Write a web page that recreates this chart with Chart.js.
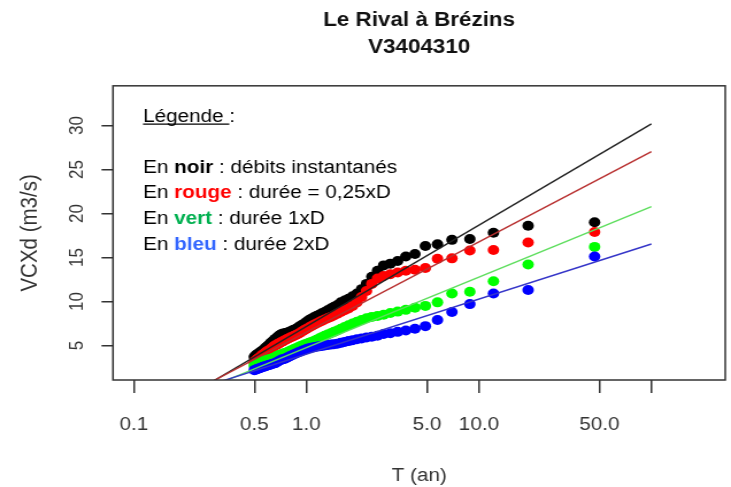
<!DOCTYPE html>
<html>
<head>
<meta charset="utf-8">
<script src="https://cdn.jsdelivr.net/npm/chart.js@4/dist/chart.umd.min.js"></script>
<style>
  html, body { margin: 0; padding: 0; background: #fff; overflow: hidden; }
  /* the reference picture is stretched sideways, so the canvas is too */
  #wrap { position: absolute; left: 0; top: 0; width: 636px; height: 487px;
          transform: scaleX(1.1494); transform-origin: 0 0; }
</style>
</head>
<body>
<div id="wrap"><canvas id="chart"></canvas></div>
<script>
// ── Data ─────────────────────────────────────────────────────────────────────
// return period T (years) of each ranked value, largest first
const returnPeriods = [
  46.86, 19.29, 12.15, 8.865, 6.979, 5.754, 4.896, 4.260, 3.770, 3.381,
  3.065, 2.803, 2.583, 2.394, 2.231, 2.089, 1.964, 1.853, 1.754, 1.665,
  1.585, 1.512, 1.445, 1.384, 1.328, 1.276, 1.228, 1.184, 1.143, 1.104,
  1.068, 1.035, 1.003, 0.973, 0.945, 0.919, 0.894, 0.870, 0.848, 0.826,
  0.806, 0.787, 0.768, 0.751, 0.734, 0.718, 0.702, 0.688, 0.674, 0.660,
  0.647, 0.634, 0.622, 0.611, 0.600, 0.589, 0.578, 0.568, 0.559, 0.549,
  0.540, 0.532, 0.523, 0.515, 0.507, 0.499
];
// noir : débits instantanés
const vcxInst = [
  19.0, 18.6, 17.8, 17.1, 17.0, 16.5, 16.3, 15.4, 15.1, 14.6,
  14.3, 14.1, 13.5, 12.8, 12.0, 11.4, 10.9, 10.6, 10.3, 10.1,
  9.9, 9.6, 9.4, 9.2, 9.0, 8.8, 8.65, 8.5, 8.35, 8.2,
  8.05, 7.9, 7.7, 7.5, 7.35, 7.2, 7.05, 6.9, 6.8, 6.7,
  6.6, 6.5, 6.45, 6.4, 6.35, 6.3, 6.2, 6.05, 5.9, 5.75,
  5.6, 5.45, 5.3, 5.15, 5.0, 4.85, 4.7, 4.55, 4.45, 4.35,
  4.25, 4.15, 4.05, 3.95, 3.85, 3.7
];
// rouge : durée = 0,25xD
const vcx025 = [
  17.9, 16.7, 15.85, 15.8, 14.9, 14.85, 13.8, 13.6, 13.5, 13.3,
  13.1, 12.9, 12.6, 12.0, 11.2, 10.5, 9.9, 9.5, 9.2, 9.0,
  8.8, 8.6, 8.4, 8.25, 8.1, 7.95, 7.8, 7.65, 7.5, 7.35,
  7.2, 7.05, 6.9, 6.75, 6.6, 6.45, 6.3, 6.2, 6.1, 6.0,
  5.9, 5.8, 5.7, 5.6, 5.5, 5.4, 5.3, 5.2, 5.1, 5.0,
  4.9, 4.75, 4.6, 4.5, 4.4, 4.3, 4.2, 4.05, 3.95, 3.85,
  3.7, 3.6, 3.5, 3.4, 3.25, 3.1
];
// vert : durée 1xD
const vcx1 = [
  16.2, 14.2, 12.3, 11.1, 10.9, 9.9, 9.5, 9.3, 9.05, 8.85,
  8.7, 8.5, 8.35, 8.25, 8.1, 7.9, 7.7, 7.5, 7.3, 7.1,
  6.9, 6.7, 6.55, 6.4, 6.25, 6.1, 5.95, 5.8, 5.65, 5.5,
  5.4, 5.3, 5.2, 5.1, 5.0, 4.9, 4.8, 4.7, 4.6, 4.5,
  4.4, 4.3, 4.2, 4.15, 4.1, 4.0, 3.95, 3.9, 3.8, 3.7,
  3.6, 3.55, 3.5, 3.45, 3.4, 3.35, 3.3, 3.25, 3.2, 3.15,
  3.1, 3.05, 3.0, 2.9, 2.8, 2.7
];
// bleu : durée 2xD
const vcx2 = [
  15.1, 11.3, 10.9, 9.7, 8.8, 7.9, 7.2, 6.9, 6.7, 6.55,
  6.4, 6.3, 6.1, 6.0, 5.9, 5.8, 5.7, 5.6, 5.5, 5.4,
  5.3, 5.2, 5.15, 5.1, 5.05, 5.0, 4.95, 4.9, 4.85, 4.8,
  4.75, 4.7, 4.6, 4.5, 4.4, 4.3, 4.2, 4.1, 4.0, 3.9,
  3.8, 3.7, 3.6, 3.5, 3.45, 3.4, 3.3, 3.2, 3.1, 3.0,
  2.95, 2.9, 2.85, 2.8, 2.75, 2.7, 2.65, 2.6, 2.55, 2.5,
  2.45, 2.4, 2.35, 2.3, 2.25, 2.2
];

// fitted lines: end points (T, VCXd)
const fitInstT = [0.28, 100], fitInstV = [0.8, 30.17];
const fit025T  = [0.29, 100], fit025V  = [1.0, 27.02];
const fit1T    = [0.33, 100], fit1V    = [0.9, 20.77];
const fit2T    = [0.33, 100], fit2V    = [1.0, 16.53];

// axes
const xTickVals   = [0.1, 0.5, 1, 5, 10, 50, 100];
const xTickLabels = ['0.1', '0.5', '1.0', '5.0', '10.0', '50.0', ''];
const yTickVals   = [5, 10, 15, 20, 25, 30];

// ── Helpers ──────────────────────────────────────────────────────────────────
const FONT = "'Liberation Sans', Arial, sans-serif";
const AXIS_COL = '#333';

function pts(xs, ys) { return xs.map((x, i) => ({x, y: ys[i]})); }

function dotSet(vals, color, order) {
  return {
    data: pts(returnPeriods, vals), showLine: false, order,
    pointRadius: 5, pointHoverRadius: 5, pointBorderWidth: 0,
    pointBackgroundColor: color, borderColor: color,
  };
}
function fitSet(xs, ys, color, order) {
  return {
    data: pts(xs, ys), showLine: true, order,
    pointRadius: 0, borderWidth: 1.4, borderColor: color, tension: 0,
  };
}

// ── Plugins: frame and text legend ───────────────────────────────────────────
const frame = {
  id: 'frame',
  afterDraw(chart) {
    const {ctx, chartArea: a} = chart;
    ctx.save();
    ctx.strokeStyle = AXIS_COL;
    ctx.lineWidth = 1.5;
    ctx.strokeRect(a.left, a.top, a.right - a.left, a.bottom - a.top);
    ctx.restore();
  }
};

const legendLines = [
  [['En ', null], ['noir', '#000000'], [' : débits instantanés', null]],
  [['En ', null], ['rouge', '#ff0000'], [' : durée = 0,25xD', null]],
  [['En ', null], ['vert', '#00b050'], [' : durée 1xD', null]],
  [['En ', null], ['bleu', '#3366ff'], [' : durée 2xD', null]],
];

const textLegend = {
  id: 'textLegend',
  afterDraw(chart) {
    const ctx = chart.ctx;
    const x0 = 124.4;
    ctx.save();
    ctx.textBaseline = 'alphabetic';
    ctx.textAlign = 'left';
    ctx.fillStyle = '#000';
    ctx.font = `18px ${FONT}`;
    ctx.fillText('Légende :', x0, 121.7);
    const w = ctx.measureText('Légende ').width;
    ctx.strokeStyle = '#000';
    ctx.lineWidth = 1.2;
    ctx.beginPath();
    ctx.moveTo(x0, 124.2);
    ctx.lineTo(x0 + w, 124.2);
    ctx.stroke();

    const baselines = [172.7, 198.3, 224.1, 249.5];
    legendLines.forEach((parts, i) => {
      let x = x0;
      parts.forEach(([txt, col]) => {
        ctx.font = `${col ? 'bold ' : ''}18px ${FONT}`;
        ctx.fillStyle = col || '#000';
        ctx.fillText(txt, x, baselines[i]);
        x += ctx.measureText(txt).width;
      });
    });
    ctx.restore();
  }
};

// ── Chart ────────────────────────────────────────────────────────────────────
new Chart(document.getElementById('chart'), {
  type: 'scatter',
  data: {
    datasets: [
      dotSet(vcxInst, '#000000', 8),
      dotSet(vcx025,  '#ff0000', 7),
      dotSet(vcx1,    '#00ff00', 6),
      dotSet(vcx2,    '#0000ff', 5),
      fitSet(fitInstT, fitInstV, '#222222', 4),
      fitSet(fit025T,  fit025V,  '#b83030', 3),
      fitSet(fit1T,    fit1V,    '#5ede5e', 2),
      fitSet(fit2T,    fit2V,    '#3535c8', 1),
    ]
  },
  options: {
    responsive: true,
    maintainAspectRatio: false,
    animation: false,
    events: [],
    layout: { padding: { left: 0, right: 3.5, top: 0, bottom: 0 } },
    plugins: {
      legend: { display: false },
      tooltip: { enabled: false },
      title: {
        display: true,
        fullSize: false,
        text: ['Le Rival à Brézins', 'V3404310'],
        color: '#111',
        font: { family: FONT, size: 19.5, weight: 'bold', lineHeight: 1.38 },
        padding: { top: 7.5, bottom: 24.5 },
      },
    },
    scales: {
      x: {
        type: 'logarithmic',
        min: 0.0757, max: 268,
        afterBuildTicks: s => { s.ticks = xTickVals.map(v => ({value: v})); },
        afterFit: s => { s.height = 107; },
        ticks: {
          autoSkip: false, minRotation: 0, maxRotation: 0, padding: 21,
          color: AXIS_COL, font: { family: FONT, size: 18 },
          callback: (v, i) => xTickLabels[i],
        },
        grid: { drawOnChartArea: false, drawTicks: true, tickLength: 13, color: AXIS_COL, lineWidth: 1.5 },
        border: { display: false },
        title: { display: true, text: 'T (an)', color: AXIS_COL,
                 font: { family: FONT, size: 18 }, padding: { top: 0, bottom: 0 } },
      },
      y: {
        type: 'linear',
        min: 1.08, max: 34.5,
        afterBuildTicks: s => { s.ticks = yTickVals.map(v => ({value: v})); },
        afterFit: s => { s.width = 98.3; },
        ticks: {
          minRotation: 90, maxRotation: 90, crossAlign: 'center', padding: 11.5,
          color: AXIS_COL, font: { family: FONT, size: 17 },
          callback: v => String(v),
        },
        grid: { drawOnChartArea: false, drawTicks: true, tickLength: 10, color: AXIS_COL, lineWidth: 1.5 },
        border: { display: false },
        title: { display: true, text: 'VCXd (m3/s)', color: AXIS_COL,
                 font: { family: FONT, size: 20.5 }, padding: { top: 13.7, bottom: 0 } },
      },
    },
  },
  plugins: [frame, textLegend],
});
</script>
</body>
</html>
